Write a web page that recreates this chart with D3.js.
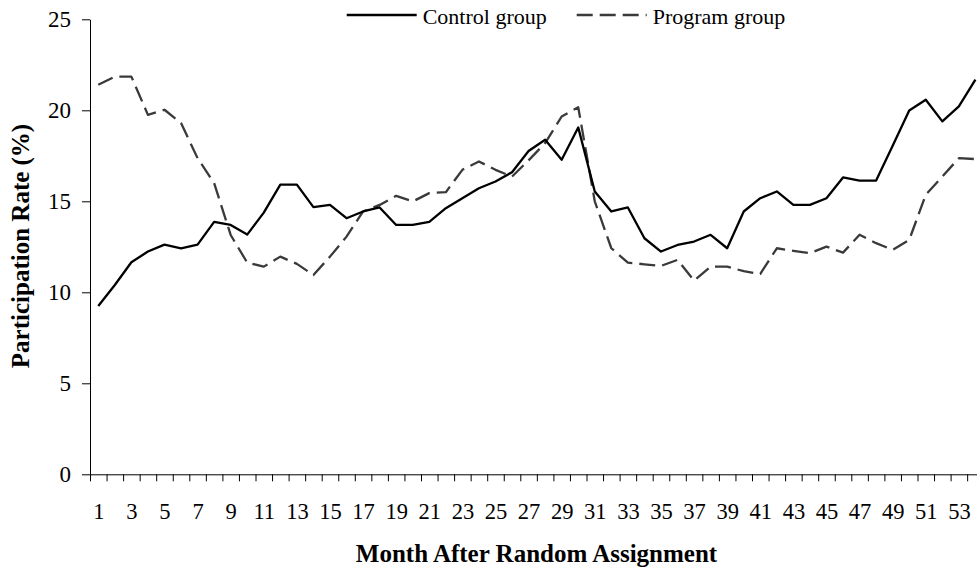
<!DOCTYPE html>
<html>
<head>
<meta charset="utf-8">
<script src="https://cdn.jsdelivr.net/npm/d3@7"></script>
<style>
  body { margin: 0; background: #fff; overflow: hidden; }
  svg { display: block; font-family: "Liberation Serif", "Times New Roman", serif; }
</style>
</head>
<body>
<div id="chart"></div>
<script>
// months 1..54 after random assignment
var months = d3.range(1, 55);
var monthLabels = d3.range(1, 55, 2); // only odd months are labelled
var yTicks = [0, 5, 10, 15, 20, 25];
var seriesNames = ['Control group', 'Program group'];

var control = [9.25, 10.4, 11.65, 12.24, 12.62, 12.42, 12.62, 13.87, 13.7, 13.17,
    14.38, 15.92, 15.92, 14.68, 14.8, 14.07, 14.44, 14.66, 13.7, 13.7,
    13.87, 14.62, 15.17, 15.72, 16.09, 16.6, 17.76, 18.38, 17.28, 19.06,
    15.54, 14.44, 14.66, 12.97, 12.24, 12.6, 12.79, 13.16, 12.42, 14.44,
    15.17, 15.54, 14.8, 14.8, 15.17, 16.31, 16.14, 16.14, 18.05, 19.99,
    20.58, 19.39, 20.21, 21.68];

var program = [21.4, 21.85, 21.85, 19.75, 20.03, 19.3, 17.37, 16.0, 13.15, 11.63,
    11.41, 11.96, 11.56, 10.95, 11.96, 13.06, 14.44, 14.8, 15.3, 14.99,
    15.45, 15.5, 16.73, 17.19, 16.73, 16.36, 17.25, 18.2, 19.66, 20.17,
    15.0, 12.42, 11.63, 11.54, 11.45, 11.78, 10.64, 11.41, 11.41, 11.16,
    11.01, 12.42, 12.28, 12.15, 12.51, 12.18, 13.16, 12.7, 12.33, 12.88,
    15.36, 16.36, 17.37, 17.32];

var W = 977, H = 569;
var plotLeft = 90, plotTop = 19.3, plotBottom = 474.3; // 'top' is taken by window.top
var catW = 16.55; // width of one month slot, plot runs off the right edge

var svg = d3.select('#chart').append('svg')
    .attr('width', W)
    .attr('height', H);

var x = d3.scaleLinear().domain([0.5, 54.5]).range([plotLeft, plotLeft + 54 * catW]);
var y = d3.scaleLinear().domain([0, 25]).range([plotBottom, plotTop]);

// y axis
var yAxis = svg.append('g')
    .attr('transform', 'translate(' + plotLeft + ',0)')
    .call(d3.axisLeft(y).tickValues(yTicks).tickSize(8).tickPadding(11).tickSizeOuter(0));
yAxis.select('.domain').attr('stroke', '#000');
yAxis.selectAll('line').attr('stroke', '#000');
yAxis.selectAll('text')
    .attr('font-family', '"Liberation Serif", serif')
    .attr('font-size', '23px')
    .attr('fill', '#000');

// x axis: ticks between months (category style), labels on odd months
var xTickAxis = svg.append('g')
    .attr('transform', 'translate(0,' + plotBottom + ')')
    .call(d3.axisBottom(x).tickValues(d3.range(0.5, 55, 1)).tickSize(7).tickSizeOuter(0).tickFormat(''));
xTickAxis.select('.domain').attr('stroke', '#000');
xTickAxis.selectAll('line').attr('stroke', '#000');

var xLabelAxis = svg.append('g')
    .attr('transform', 'translate(0,' + plotBottom + ')')
    .call(d3.axisBottom(x).tickValues(monthLabels).tickSize(0).tickPadding(29).tickFormat(d3.format('d')));
xLabelAxis.select('.domain').remove();
xLabelAxis.selectAll('text')
    .attr('font-family', '"Liberation Serif", serif')
    .attr('font-size', '22.5px')
    .attr('fill', '#000');

// axis titles
svg.append('text')
    .attr('x', 536.5)
    .attr('y', 562)
    .attr('text-anchor', 'middle')
    .attr('font-weight', 'bold')
    .attr('font-size', '25px')
    .text('Month After Random Assignment');

svg.append('text')
    .attr('transform', 'translate(29,246) rotate(-90)')
    .attr('text-anchor', 'middle')
    .attr('font-weight', 'bold')
    .attr('font-size', '25px')
    .text('Participation Rate (%)');

// lines
var line = d3.line()
    .x(function (d, i) { return x(months[i]); })
    .y(function (d) { return y(d); });

var styles = [
    {data: control, stroke: '#000', dash: null},
    {data: program, stroke: '#3a3a3a', dash: '16,7'}
];

svg.append('g').selectAll('path')
    .data(styles.slice().reverse())
    .enter()
    .append('path')
    .attr('d', function (d) { return line(d.data); })
    .attr('fill', 'none')
    .attr('stroke', function (d) { return d.stroke; })
    .attr('stroke-width', 2.3)
    .attr('stroke-linejoin', 'round')
    .attr('stroke-dasharray', function (d) { return d.dash; });

// legend
var legendX = [346.7, 576.7];
var legend = svg.append('g').selectAll('g')
    .data(styles)
    .enter()
    .append('g')
    .attr('transform', function (d, i) { return 'translate(' + legendX[i] + ',15)'; });
legend.append('line')
    .attr('x1', 0).attr('x2', 70)
    .attr('stroke', function (d) { return d.stroke; })
    .attr('stroke-width', 2.3)
    .attr('stroke-dasharray', function (d) { return d.dash; });
legend.append('text')
    .attr('x', 76)
    .attr('y', 9)
    .attr('font-size', '22px')
    .text(function (d, i) { return seriesNames[i]; });
</script>
</body>
</html>
